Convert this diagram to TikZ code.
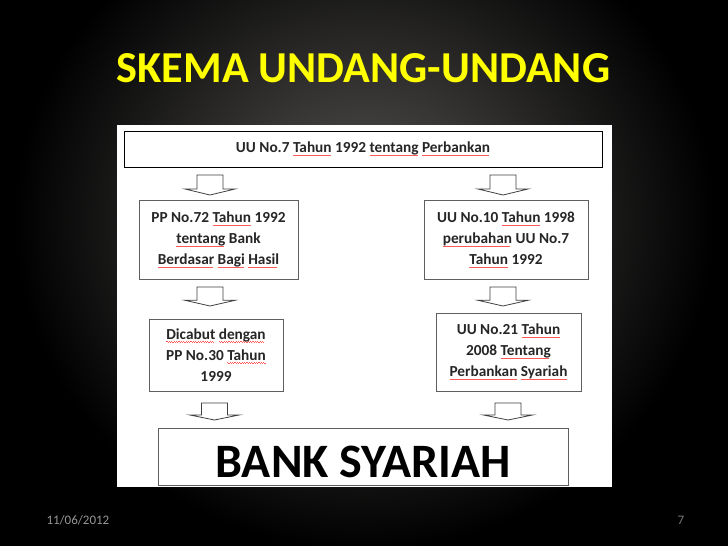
\documentclass[tikz,border=0pt]{standalone}
\usepackage{fontspec}
\setmainfont{Carlito}
\newsavebox\sqbox
\newcommand\sq[1]{\sbox\sqbox{#1}\leavevmode\rlap{\raisebox{-2.8pt}{\textcolor{red!65!white}{\hbox to \wd\sqbox{\leaders\hbox to 2.4pt{\rule[0.7pt]{1.2pt}{0.45pt}\rule{1.2pt}{0.45pt}}\hfill}}}}\usebox\sqbox}
\definecolor{titleyellow}{RGB}{255,255,0}
\definecolor{glow}{RGB}{88,86,84}
\definecolor{boxline}{RGB}{95,95,95}
\definecolor{datecol}{RGB}{150,150,150}
\begin{document}
\begin{tikzpicture}[x=1pt,y=-1pt,
  box/.style={draw=boxline, line width=0.8pt, fill=white, inner sep=0pt, align=center,
    font=\fontsize{15.3}{21}\bfseries\selectfont, text=black!85},
  arrowline/.style={draw=black!75, line width=0.8pt, fill=white, line join=miter},
  blockarrow/.pic={\draw[arrowline] (-13,-10) -- (13,-10) -- (13,4) -- (25,4) -- (0,10) -- (-25,4) -- (-13,4) -- cycle;}
]
\useasboundingbox (0,0) rectangle (728,546);
% background
\fill[black] (0,0) rectangle (728,546);
\shade[inner color=glow, outer color=black] (364,220) ellipse [x radius=350, y radius=330];
% title
\node[font=\fontsize{44.2}{50}\bfseries\selectfont, text=titleyellow] (title) at (363.5,68) {SKEMA UNDANG-UNDANG};
% white panel
\fill[white] (117,125) rectangle (612,487);
% top box
\node[box, draw=black, minimum width=478, minimum height=36] (top) at (363,149)
  {UU No.7 \sq{Tahun} 1992 \sq{tentang} \sq{Perbankan}};
% left column
\node[box, minimum width=159, minimum height=79] (pp72) at (218.5,240)
  {PP No.72 \sq{Tahun} 1992\\ \sq{tentang} Bank\\ \sq{Berdasar} \sq{Bagi} \sq{Hasil}};
\node[box, minimum width=134, minimum height=72] (pp30) at (216,355)
  {\sq{Dicabut} \sq{dengan}\\ PP No.30 \sq{Tahun}\\ 1999};
% right column
\node[box, minimum width=164, minimum height=79] (uu10) at (506,240)
  {UU No.10 \sq{Tahun} 1998\\ \sq{perubahan} UU No.7\\ \sq{Tahun} 1992};
\node[box, minimum width=145, minimum height=78] (uu21) at (508.5,352)
  {UU No.21 \sq{Tahun}\\ 2008 \sq{Tentang}\\ \sq{Perbankan} \sq{Syariah}};
% bottom box
\node[box, minimum width=410, text height=49, text depth=8, text=black,
  font=\fontsize{48}{56}\bfseries\selectfont] (bank) at (363,456.5) {BANK SYARIAH};
% block arrows
\pic at (210,185) {blockarrow};
\pic[yscale=0.95] at (210,296.5) {blockarrow};
\pic[yscale=0.85] at (214.5,411.5) {blockarrow};
\pic at (503,185) {blockarrow};
\pic[yscale=0.95] at (503,296.5) {blockarrow};
\pic[yscale=0.85] at (508,411.5) {blockarrow};
% footer
\node[font=\fontsize{13}{15}\selectfont, text=datecol, anchor=west] (date) at (43,520.5) {11/06/2012};
\node[font=\fontsize{13}{15}\selectfont, text=datecol!80!black] (page) at (681,520.5) {7};
\end{tikzpicture}
\end{document}
